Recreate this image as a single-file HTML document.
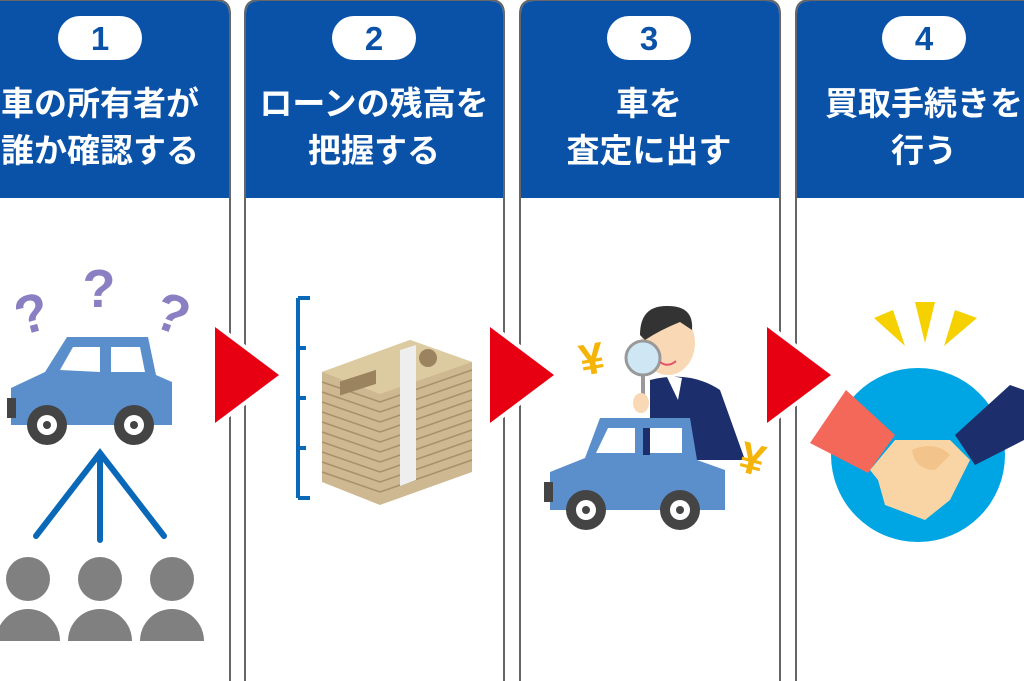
<!DOCTYPE html>
<html><head><meta charset="utf-8"><style>
html,body{margin:0;padding:0;background:#fff;width:1024px;height:681px;overflow:hidden}
svg text{font-family:"Liberation Sans","Noto Sans CJK JP",sans-serif;font-weight:bold}
</style></head><body>
<svg width="1024" height="681" viewBox="0 0 1024 681" xmlns="http://www.w3.org/2000/svg">
<g stroke="#666" stroke-width="2" fill="#fff">
<path d="M-30 690 V14 Q-30 0 -16 0 H216 Q230 0 230 14 V690"/>
<path d="M245 690 V14 Q245 0 259 0 H490 Q504 0 504 14 V690"/>
<path d="M520 690 V14 Q520 0 534 0 H766 Q780 0 780 14 V690"/>
<path d="M796 690 V14 Q796 0 810 0 H1040 Q1054 0 1054 14 V690"/>
</g>
<g fill="#0a52a8">
<path d="M-29 198 V14 Q-29 1 -16 1 H216 Q229 1 229 14 V198Z"/>
<path d="M246 198 V14 Q246 1 259 1 H490 Q503 1 503 14 V198Z"/>
<path d="M521 198 V14 Q521 1 534 1 H766 Q779 1 779 14 V198Z"/>
<path d="M797 198 V14 Q797 1 810 1 H1040 Q1053 1 1053 14 V198Z"/>
</g>
<g fill="#fff">
<rect x="58" y="16" width="84" height="44" rx="22"/>
<rect x="332" y="16" width="84" height="44" rx="22"/>
<rect x="607" y="16" width="84" height="44" rx="22"/>
<rect x="882" y="16" width="84" height="44" rx="22"/>
</g>
<g fill="#0a52a8" font-size="33" text-anchor="middle">
<text x="100" y="50">1</text><text x="374" y="50">2</text><text x="649" y="50">3</text><text x="924" y="50">4</text>
</g>
<g fill="#fff" font-size="33" text-anchor="middle">
<text x="100" y="115">車の所有者が</text><text x="100" y="162">誰か確認する</text>
<text x="374" y="115">ローンの残高を</text><text x="374" y="162">把握する</text>
<text x="649" y="115">車を</text><text x="649" y="162">査定に出す</text>
<text x="924" y="115">買取手続きを</text><text x="924" y="162">行う</text>
</g>
<g fill="#e60012" stroke="#fff" stroke-width="8" paint-order="stroke">
<path d="M215 327 L279 375 L215 423Z"/>
<path d="M490 327 L554 375 L490 423Z"/>
<path d="M767 327 L831 375 L767 423Z"/>
</g>
<g fill="#8a7fc2" font-size="54" text-anchor="middle" font-family="Liberation Sans">
<text x="32" y="332" transform="rotate(-15 32 315)">?</text>
<text x="99" y="307">?</text>
<text x="172" y="332" transform="rotate(20 172 315)">?</text>
</g>
<g>
<path d="M67 337 H148 L156 375 L172 382 V425 H11 V388 L45 372Z" fill="#5b8fcc"/>
<path d="M60 370 L73 347 H100 V372Z M111 347 H140 L145 372 H111Z" fill="#fff"/>
<rect x="7" y="398" width="9" height="20" fill="#444"/>
<circle cx="47" cy="425" r="20" fill="#444"/><circle cx="47" cy="425" r="10" fill="#fff"/><circle cx="47" cy="425" r="4" fill="#444"/>
<circle cx="134" cy="425" r="20" fill="#444"/><circle cx="134" cy="425" r="10" fill="#fff"/><circle cx="134" cy="425" r="4" fill="#444"/>
</g>
<g stroke="#0a68b8" stroke-width="6" stroke-linecap="round" fill="none">
<path d="M36 536 L100 453 L164 536 M100 453 V540"/>
</g>
<g fill="#808080">
<circle cx="28" cy="579" r="22"/><circle cx="100" cy="579" r="22"/><circle cx="172" cy="579" r="22"/>
<path d="M-4 641 A32 32 0 0 1 60 641Z M68 641 A32 32 0 0 1 132 641Z M140 641 A32 32 0 0 1 204 641Z"/>
</g>
<path d="M298 298 V498 M298 298 H310 M298 498 H310 M298 348 H306 M298 398 H306 M298 448 H306" stroke="#0a68b8" stroke-width="4" fill="none"/>
<g>
<path d="M322 372 L410 340 L472 362 L472 472 L380 505 L322 482Z" fill="#cdb891"/>
<path d="M322 372 L410 340 L472 362 L380 394Z" fill="#dccaa0"/>
<g stroke="#a99068" stroke-width="1.5" fill="none">
<path d="M322 392 L380 412 L472 380 M322 402 L380 422 L472 390 M322 412 L380 432 L472 400 M322 422 L380 442 L472 410 M322 432 L380 452 L472 420 M322 442 L380 462 L472 430 M322 452 L380 472 L472 440 M322 462 L380 482 L472 450 M322 472 L380 492 L472 460 M322 382 L380 402 L472 370"/>
</g>
<path d="M400 350 L416 345 L416 480 L400 486Z" fill="#eee"/>
<rect x="340" y="372" width="36" height="14" fill="#9b8360" transform="skewY(-18) translate(0 120)"/>
<circle cx="428" cy="358" r="9" fill="#9b8360"/>
</g>
<g>
<path d="M650 380 Q690 370 720 390 L745 460 L650 460Z" fill="#1c2e6b"/>
<path d="M666 375 L682 378 L678 400Z" fill="#fff"/>
<ellipse cx="668" cy="343" rx="27" ry="32" fill="#f9d9b5"/>
<path d="M640 335 Q640 305 668 306 Q694 306 692 330 L680 322 Q660 330 645 340Z" fill="#333"/>
<circle cx="643" cy="358" r="17" fill="#cfe6f5" stroke="#999" stroke-width="3"/>
<path d="M643 375 V400" stroke="#999" stroke-width="4"/>
<ellipse cx="641" cy="403" rx="8" ry="10" fill="#f9d9b5"/>
<path d="M660 362 Q668 368 676 361" stroke="#e6516a" stroke-width="2" fill="none"/>
</g>
<g>
<path d="M600 418 H690 L697 460 L725 470 V510 H550 V472 L585 458Z" fill="#5b8fcc"/>
<path d="M596 453 L608 428 H635 V453Z M647 428 H682 V453 H647Z" fill="#fff"/>
<path d="M643 428 H650 V455 H643Z" fill="#1c2e6b"/>
<rect x="544" y="482" width="9" height="20" fill="#444"/>
<circle cx="586" cy="510" r="20" fill="#444"/><circle cx="586" cy="510" r="10" fill="#fff"/><circle cx="586" cy="510" r="4" fill="#444"/>
<circle cx="680" cy="510" r="20" fill="#444"/><circle cx="680" cy="510" r="10" fill="#fff"/><circle cx="680" cy="510" r="4" fill="#444"/>
</g>
<g fill="#f5b40a" font-size="44" text-anchor="middle"><text x="592" y="374" transform="rotate(-10 592 360)">¥</text><text x="752" y="474" transform="rotate(15 752 460)">¥</text></g>
<g fill="#f5d100">
<path d="M874 318 L893 310 L905 346Z"/><path d="M915 302 H935 L925 343Z"/><path d="M955 310 L977 318 L944 346Z"/>
</g>
<circle cx="918" cy="455" r="87" fill="#00a5e3"/>
<path d="M810 443 L846 390 L895 435 L868 473Z" fill="#f4685a"/>
<path d="M955 435 L1010 385 L1024 390 V440 L975 465Z" fill="#1c2e6b"/>
<path d="M870 470 L895 440 L950 440 L970 460 L950 500 L925 520 L885 505 L878 480Z" fill="#f9d4a5"/>
<path d="M912 450 Q935 440 950 455 L935 470 Q915 470 912 450Z" fill="#f2c38a"/>
</svg>
</body></html>
